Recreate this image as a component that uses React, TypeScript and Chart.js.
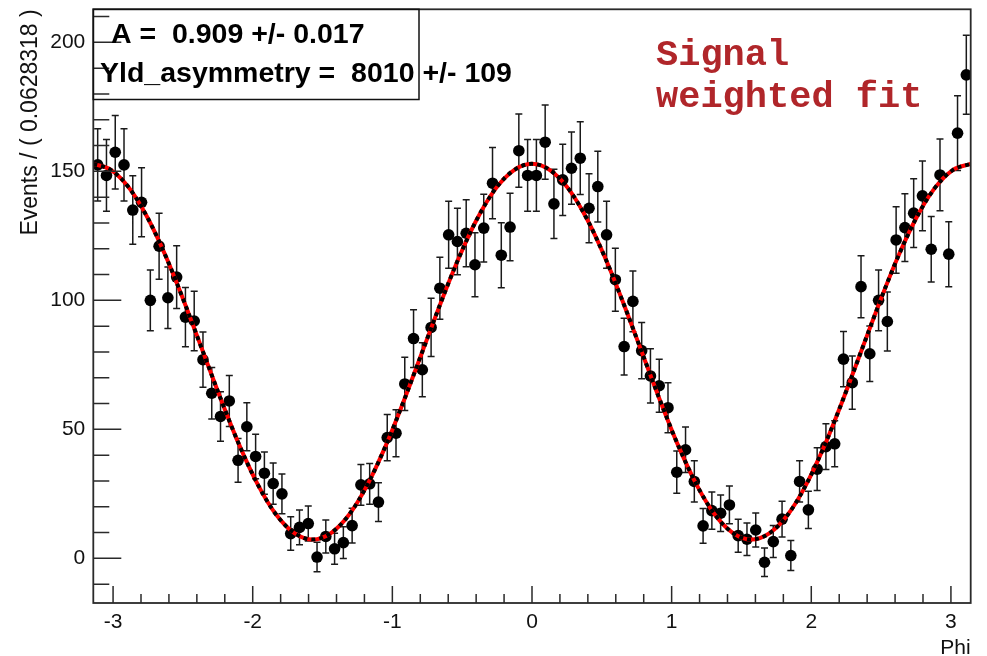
import React, { useEffect, useRef } from "react";
import { Chart, registerables } from "chart.js";

Chart.register(...registerables);

// ---- data ----
const BIN_WIDTH = 0.0628318;
const PHI_MIN = -Math.PI;
const PHI_MAX = Math.PI;

const counts = [
  152.5, 148.4, 157.4, 152.5, 135.0, 138.0, 100.0, 121.0, 101.0, 109.0,
  93.5, 92.0, 77.0, 64.0, 55.0, 61.0, 38.0, 51.0, 39.5, 33.0,
  29.0, 25.0, 9.6, 12.0, 13.5, 0.5, 8.5, 3.7, 6.1, 12.7,
  28.5, 28.9, 21.8, 46.8, 48.5, 67.6, 85.2, 73.1, 89.5, 104.7,
  125.4, 122.8, 126.0, 113.8, 128.0, 145.4, 117.5, 128.4, 158.0, 148.4,
  148.4, 161.3, 137.4, 146.7, 151.2, 155.1, 135.7, 144.1, 125.4, 108.0,
  82.1, 99.6, 80.5, 70.7, 66.9, 58.4, 33.4, 42.1, 29.8, 12.6,
  18.5, 17.5, 20.7, 8.8, 7.4, 11.0, -1.5, 6.5, 15.2, 1.1,
  29.8, 18.8, 34.6, 43.3, 44.4, 77.2, 68.1, 105.3, 79.3, 100.0,
  91.8, 123.4, 128.2, 133.8, 140.5, 119.8, 148.6, 117.9, 164.8, 187.4,
];

const errors = [
  14.0, 13.9, 14.2, 14.0, 13.3, 13.4, 11.8, 12.8, 11.9, 12.2,
  11.5, 11.5, 10.7, 10.0, 9.6, 9.9, 8.5, 9.3, 8.6, 8.2,
  8.0, 7.7, 6.5, 6.7, 6.8, 5.7, 6.4, 6.0, 6.2, 6.7,
  7.9, 7.9, 7.5, 9.0, 9.1, 10.3, 11.2, 10.5, 11.3, 12.0,
  13.0, 12.9, 13.0, 12.4, 13.1, 13.8, 12.6, 13.1, 14.2, 13.9,
  13.9, 14.4, 13.4, 13.8, 14.0, 14.1, 13.4, 13.7, 13.0, 12.2,
  11.0, 11.8, 10.9, 10.5, 10.3, 9.7, 8.2, 8.8, 8.0, 6.7,
  7.2, 7.1, 7.3, 6.4, 6.3, 6.6, 5.5, 6.2, 6.9, 5.8,
  8.0, 7.2, 8.3, 8.9, 8.9, 10.7, 10.3, 12.0, 10.8, 11.8,
  11.4, 12.9, 13.1, 13.3, 13.5, 12.7, 13.9, 12.6, 14.5, 15.3,
];

const fitX = [
  -3.1416, -3.0107, -2.8798, -2.7489, -2.618, -2.4871, -2.3562, -2.2253, -2.0944, -1.9635,
  -1.8326, -1.7017, -1.5708, -1.4399, -1.309, -1.1781, -1.0472, -0.9163, -0.7854, -0.6545,
  -0.5236, -0.3927, -0.2618, -0.1309, 0, 0.1309, 0.2618, 0.3927, 0.5236, 0.6545,
  0.7854, 0.9163, 1.0472, 1.1781, 1.309, 1.4399, 1.5708, 1.7017, 1.8326, 1.9635,
  2.0944, 2.2253, 2.3562, 2.4871, 2.618, 2.7489, 2.8798, 3.0107, 3.1416,
];
const fitY = [
  152.9, 150.4, 143.2, 131.6, 116.5, 98.9, 80.1, 61.3, 43.7, 28.6,
  17.0, 9.8, 7.3, 9.8, 17.0, 28.6, 43.7, 61.3, 80.1, 98.9,
  116.5, 131.6, 143.2, 150.4, 152.9, 150.4, 143.2, 131.6, 116.5, 98.9,
  80.1, 61.3, 43.7, 28.6, 17.0, 9.8, 7.3, 9.8, 17.0, 28.6,
  43.7, 61.3, 80.1, 98.9, 116.5, 131.6, 143.2, 150.4, 152.9,
];

const xTicks = [-3, -2, -1, 0, 1, 2, 3];
const yTicks = [0, 50, 100, 150, 200];
const xMinorStep = 0.2;
const yMinorStep = 10;
const Y_MIN = -17.3;
const Y_MAX = 212.8;

const xTitle = "Phi";
const yTitle = "Events / ( 0.0628318 )";
const statLines = ["A =  0.909 +/- 0.017", "Yld_asymmetry =  8010 +/- 109"];
const noteLines = ["Signal", "weighted fit"];

const SANS = "'Liberation Sans', Arial, Helvetica, sans-serif";
const MONO = "'Liberation Mono', 'Courier New', monospace";

export default function App() {
  const ref = useRef<HTMLCanvasElement>(null);

  useEffect(() => {
    document.body.style.margin = "0";
    const centers = counts.map((_, i) => PHI_MIN + (i + 0.5) * BIN_WIDTH);
    const points = counts.map((y, i) => ({ x: centers[i], y }));
    const fitPts = fitX.map((x, i) => ({ x, y: fitY[i] }));

    const rootStyle = {
      id: "rootStyle",
      beforeDatasetsDraw(chart: any) {
        const { ctx, chartArea } = chart;
        const xs = chart.scales.x;
        const ys = chart.scales.y;
        ctx.save();
        ctx.beginPath();
        ctx.rect(chartArea.left, chartArea.top, chartArea.right - chartArea.left, chartArea.bottom - chartArea.top);
        ctx.clip();
        ctx.strokeStyle = "#1a1a1a";
        ctx.lineWidth = 1.5;
        ctx.beginPath();
        counts.forEach((v, i) => {
          const px = xs.getPixelForValue(centers[i]);
          const t = ys.getPixelForValue(v + errors[i]);
          const b = ys.getPixelForValue(v - errors[i]);
          ctx.moveTo(px, t);
          ctx.lineTo(px, b);
          ctx.moveTo(px - 3.5, t);
          ctx.lineTo(px + 3.5, t);
          ctx.moveTo(px - 3.5, b);
          ctx.lineTo(px + 3.5, b);
        });
        ctx.stroke();
        ctx.restore();
      },
      afterDraw(chart: any) {
        const { ctx, chartArea } = chart;
        const xs = chart.scales.x;
        const ys = chart.scales.y;
        const { left, right, top, bottom } = chartArea;
        ctx.save();
        // frame
        ctx.strokeStyle = "#2a2a2a";
        ctx.lineWidth = 1.8;
        ctx.strokeRect(left, top, right - left, bottom - top);
        // ticks
        ctx.lineWidth = 1.5;
        ctx.beginPath();
        for (let v = -3.2; v <= 3.2001; v += xMinorStep) {
          const r = Math.round(v * 10) / 10;
          if (r < PHI_MIN || r > PHI_MAX) continue;
          const px = xs.getPixelForValue(r);
          const major = xTicks.includes(r);
          ctx.moveTo(px, bottom);
          ctx.lineTo(px, bottom - (major ? 17 : 9));
        }
        for (let v = -10; v <= 210; v += yMinorStep) {
          const py = ys.getPixelForValue(v);
          const major = yTicks.includes(v);
          ctx.moveTo(left, py);
          ctx.lineTo(left + (major ? 28 : 16), py);
        }
        ctx.stroke();
        // stat box
        ctx.lineWidth = 1.5;
        ctx.strokeStyle = "#111";
        ctx.strokeRect(left, top, 419 - left, 99.5 - top);
        ctx.fillStyle = "#000";
        ctx.font = `bold 28.5px ${SANS}`;
        ctx.textBaseline = "alphabetic";
        ctx.textAlign = "left";
        ctx.fillText(statLines[0], 111, 43);
        ctx.fillText(statLines[1], 100, 82);
        // note text
        ctx.fillStyle = "#b0262a";
        ctx.font = `bold 37px ${MONO}`;
        ctx.fillText(noteLines[0], 656, 65);
        ctx.fillText(noteLines[1], 656, 107);
        ctx.restore();
      },
    };

    const chart = new Chart(ref.current as HTMLCanvasElement, {
      type: "scatter",
      data: {
        datasets: [
          {
            type: "line",
            data: fitPts,
            borderColor: "#000000",
            borderWidth: 4,
            borderDash: [4, 4],
            pointRadius: 0,
            cubicInterpolationMode: "monotone",
            fill: false,
          } as any,
          {
            type: "line",
            data: fitPts,
            borderColor: "#ff0000",
            borderWidth: 4,
            pointRadius: 0,
            cubicInterpolationMode: "monotone",
            fill: false,
          } as any,
          {
            type: "scatter",
            data: points,
            pointRadius: 5.8,
            pointBackgroundColor: "#000",
            pointBorderColor: "#000",
            pointBorderWidth: 0,
          } as any,
        ],
      },
      options: {
        responsive: false,
        animation: false,
        events: [],
        layout: { padding: { left: 0, top: 9.3, right: 16.3, bottom: 0 } },
        plugins: { legend: { display: false }, tooltip: { enabled: false } },
        scales: {
          x: {
            type: "linear",
            min: PHI_MIN,
            max: PHI_MAX,
            afterBuildTicks: (s: any) => {
              s.ticks = xTicks.map((v) => ({ value: v }));
            },
            afterFit: (s: any) => {
              s.height = 53;
              s.paddingLeft = 0;
              s.paddingRight = 0;
            },
            grid: { display: false, drawTicks: false },
            border: { display: false },
            ticks: {
              color: "#111",
              font: { family: SANS, size: 21 },
              padding: 7,
              maxRotation: 0,
              autoSkip: false,
              callback: (v: any) => String(v),
            },
            title: {
              display: true,
              text: xTitle,
              align: "end",
              color: "#111",
              font: { family: SANS, size: 21 },
              padding: { top: 0, bottom: -5 },
            },
          },
          y: {
            type: "linear",
            min: Y_MIN,
            max: Y_MAX,
            afterBuildTicks: (s: any) => {
              s.ticks = yTicks.map((v) => ({ value: v }));
            },
            afterFit: (s: any) => {
              s.width = 93.3;
              s.paddingTop = 0;
              s.paddingBottom = 0;
            },
            grid: { display: false, drawTicks: false },
            border: { display: false },
            ticks: {
              color: "#111",
              font: { family: SANS, size: 21 },
              padding: 8,
              autoSkip: false,
              callback: (v: any) => String(v),
            },
            title: {
              display: true,
              text: yTitle,
              align: "end",
              color: "#111",
              font: { family: SANS, size: 23 },
              padding: { top: 17, bottom: 0 },
            },
          },
        },
      } as any,
      plugins: [rootStyle],
    });
    return () => chart.destroy();
  }, []);

  return (
    <div style={{ position: "fixed", left: 0, top: 0, width: 987, height: 656, background: "#fff" }}>
      <canvas ref={ref} width={987} height={656} style={{ display: "block" }} />
    </div>
  );
}
